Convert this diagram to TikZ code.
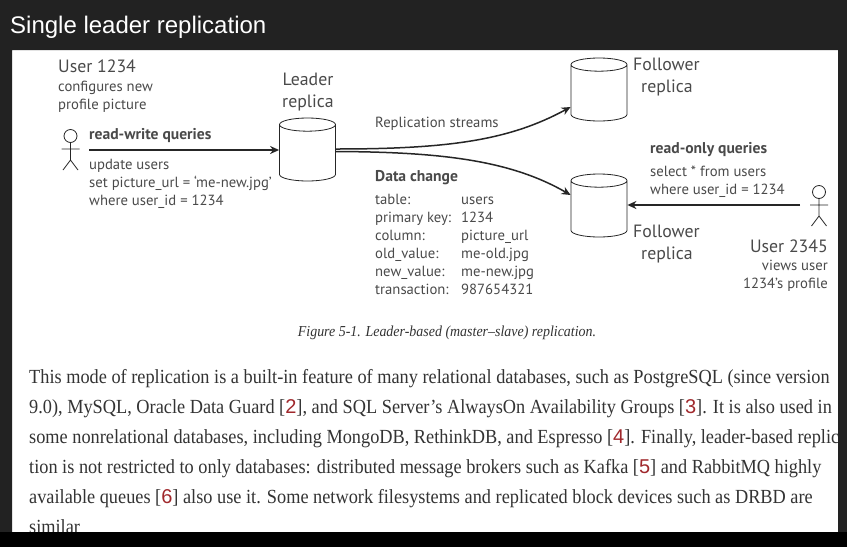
\documentclass[tikz,border=0pt]{standalone}
\usepackage{fontspec}
\usepackage{tikz}
\usetikzlibrary{shapes.geometric,arrows.meta}
\setmainfont{PT Sans}
\newfontfamily\titlefont{Liberation Sans}
\newfontfamily\bodyfont[FakeStretch=0.915]{Liberation Serif}
\definecolor{slide}{HTML}{222222}
\definecolor{ink}{HTML}{4A4A4A}
\definecolor{linkred}{HTML}{A0282C}
\newcommand{\bodyref}[1]{[{\color{linkred}\titlefont #1}]}
\tikzset{
	db/.style={cylinder, anchor=shape center, draw=black!85, fill=white, line width=.8pt, shape border rotate=90, shape aspect=2.2, minimum width=56pt, minimum height=63pt, inner sep=3pt},
	big/.style={anchor=base west, text=ink, font=\fontsize{17.8}{20}\selectfont, inner sep=0pt},
	small/.style={anchor=base west, text=ink, font=\fontsize{14.7}{16}\selectfont, inner sep=0pt},
	smallbold/.style={small, font=\fontsize{15.6}{17}\selectfont\bfseries},
	bodyline/.style={anchor=base west, text=black!80, font=\bodyfont\fontsize{20}{22}\selectfont, inner sep=0pt},
	conn/.style={-{Stealth[length=9pt,width=8pt]}, line width=1.5pt, draw=black!85},
	stickman/.pic={
		\draw[black!85, line width=.8pt] (0,-13) circle (6.5pt) (0,-6.5) -- (0,11) (-9,0) -- (9,0) (-7.5,21) -- (0,11) -- (7.5,21);
	}
}
\begin{document}
\begin{tikzpicture}[x=1pt,y=-1pt]
\useasboundingbox (0,0) rectangle (847,547);
\fill[white] (0,0) rectangle (847,547);
% diagram
\node [db] (leader) at (307.5,149.5) {};
\node [db] (followerA) at (599,89.5) {};
\node [db] (followerB) at (599,205.5) {};
\pic at (70.5,149) {stickman};
\pic at (819,205) {stickman};
\coordinate (userA) at (89,150);
\coordinate (userB) at (800,205);
\draw [conn] (userA) -- (leader.west |- userA);
\draw [conn] (userB) -- (followerB.east |- userB);
\draw [conn] (leader.east |- 0,149) .. controls (450,149) and (510,140) .. (followerA.west |- 0,107);
\draw [conn] (leader.east |- 0,151.5) .. controls (440,152) and (510,160) .. (followerB.west |- 0,195);
% labels on the left
\node [big] (userAname) at (58,72) {User 1234};
\node [small] (userAtextA) at (58,91) {configures new};
\node [small] (userAtextB) at (58,109) {profile picture};
\node [smallbold] (rwtitle) at (89,139) {read-write queries};
\node [small] (rwA) at (89,169) {update users};
\node [small] (rwB) at (89,187) {set picture\_url = ‘me-new.jpg’};
\node [small] (rwC) at (89,205) {where user\_id = 1234};
\node [big,anchor=base] (leaderA) at (308,85) {Leader};
\node [big,anchor=base] (leaderB) at (308,107) {replica};
% labels in the middle
\node [small] (streams) at (375,127) {Replication streams};
\node [smallbold] (change) at (375,181) {Data change};
\node [small] (keyA) at (375,204) {table:};
\node [small] (keyB) at (375,222) {primary key:};
\node [small] (keyC) at (375,240) {column:};
\node [small] (keyD) at (375,258) {old\_value:};
\node [small] (keyE) at (375,276) {new\_value:};
\node [small] (keyF) at (375,294) {transaction:};
\node [small] (valA) at (461,204) {users};
\node [small] (valB) at (461,222) {1234};
\node [small] (valC) at (461,240) {picture\_url};
\node [small] (valD) at (461,258) {me-old.jpg};
\node [small] (valE) at (461,276) {me-new.jpg};
\node [small] (valF) at (461,294) {987654321};
% labels on the right
\node [big] (followerAa) at (633,70) {Follower};
\node [big,anchor=base] (followerAb) at (667,92) {replica};
\node [big] (followerBa) at (633,237) {Follower};
\node [big,anchor=base] (followerBb) at (667,259) {replica};
\node [smallbold] (rotitle) at (650,153) {read-only queries};
\node [small] (roA) at (650,176) {select * from users};
\node [small] (roB) at (650,194) {where user\_id = 1234};
\node [big,anchor=base east] (userBname) at (828,252) {User 2345};
\node [small,anchor=base east] (userBtextA) at (828,270) {views user};
\node [small,anchor=base east] (userBtextB) at (828,288) {1234’s profile};
% page text
\node [anchor=base, text=black!80, inner sep=0pt, font=\bodyfont\fontsize{15.25}{17}\selectfont\itshape] (caption) at (447,336) {Figure 5-1. Leader-based (master–slave) replication.};
\node [bodyline] (lineA) at (29,383) {This mode of replication is a built-in feature of many relational databases, such as PostgreSQL (since version};
\node [bodyline] (lineB) at (29,413) {9.0), MySQL, Oracle Data Guard \bodyref{2}, and SQL Server’s AlwaysOn Availability Groups \bodyref{3}. It is also used in};
\node [bodyline] (lineC) at (29,443) {some nonrelational databases, including MongoDB, RethinkDB, and Espresso \bodyref{4}. Finally, leader-based replic};
\node [bodyline] (lineD) at (29,473) {tion is not restricted to only databases: distributed message brokers such as Kafka \bodyref{5} and RabbitMQ highly};
\node [bodyline] (lineE) at (29,503) {available queues \bodyref{6} also use it. Some network filesystems and replicated block devices such as DRBD are};
\node [bodyline] (lineF) at (29,533) {similar};
% frame of the slide goes over the page
\fill[slide] (0,0) rectangle (847,50) (0,50) rectangle (12,532) (838,50) rectangle (847,532);
\fill[black] (0,532) rectangle (847,547);
\node [anchor=base west, text=white, inner sep=0pt, font=\titlefont\fontsize{24}{28}\selectfont] (title) at (10,33) {Single leader replication};
\end{tikzpicture}
\end{document}
